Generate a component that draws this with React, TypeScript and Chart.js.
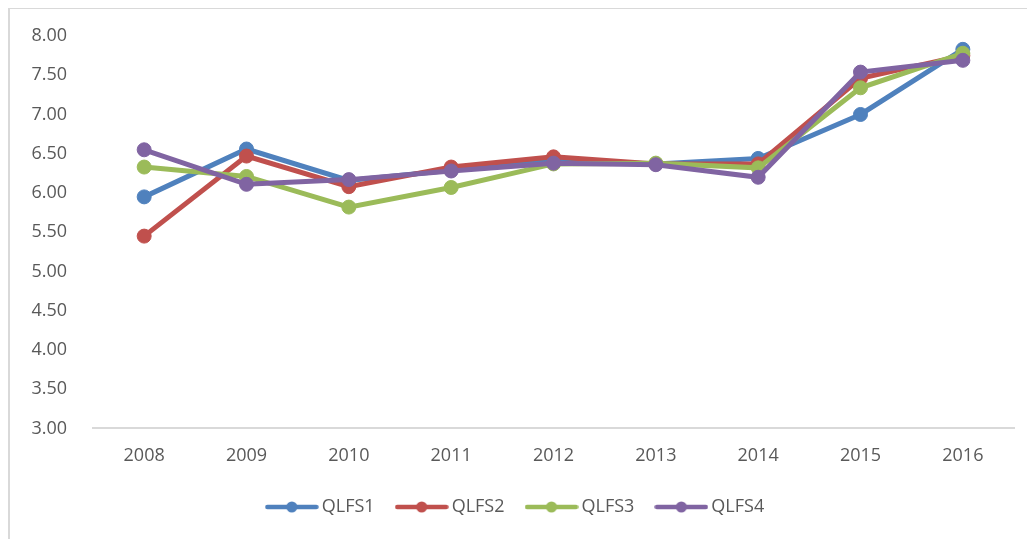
import React, { useEffect, useRef } from "react";
import { Chart, registerables } from "chart.js";

Chart.register(...registerables);

const years = ["2008", "2009", "2010", "2011", "2012", "2013", "2014", "2015", "2016"];
const seriesNames = ["QLFS1", "QLFS2", "QLFS3", "QLFS4"];
const qlfs1 = [5.95, 6.56, 6.16, 6.29, 6.42, 6.37, 6.44, 7.0, 7.83];
const qlfs2 = [5.45, 6.47, 6.08, 6.33, 6.46, 6.37, 6.37, 7.46, 7.75];
const qlfs3 = [6.33, 6.21, 5.82, 6.07, 6.37, 6.38, 6.32, 7.34, 7.78];
const qlfs4 = [6.55, 6.11, 6.17, 6.28, 6.38, 6.36, 6.2, 7.54, 7.69];
const seriesColors = ["#4F81BD", "#C0504D", "#9BBB59", "#8064A2"];
const yMin = 3;
const yMax = 8;
const yStep = 0.5;

const FONT = "'Open Sans', 'Noto Sans', sans-serif";
const TEXT = "#595959";

function legendImage(color: string): HTMLCanvasElement {
  const c = document.createElement("canvas");
  c.width = 54;
  c.height = 14;
  const g = c.getContext("2d")!;
  g.strokeStyle = color;
  g.lineWidth = 4.5;
  g.lineCap = "round";
  g.beginPath();
  g.moveTo(2.5, 7);
  g.lineTo(51.5, 7);
  g.stroke();
  g.fillStyle = color;
  g.beginPath();
  g.arc(27, 7, 5.5, 0, Math.PI * 2);
  g.fill();
  return c;
}

export default function App() {
  const ref = useRef<HTMLCanvasElement | null>(null);

  useEffect(() => {
    if (!ref.current) return;
    const values = [qlfs1, qlfs2, qlfs3, qlfs4];
    const images = seriesColors.map(legendImage);
    const chart = new Chart(ref.current, {
      type: "line",
      data: {
        labels: years,
        datasets: seriesNames.map((name, i) => ({
          label: name,
          data: values[i],
          borderColor: seriesColors[i],
          backgroundColor: seriesColors[i],
          borderWidth: 5,
          pointRadius: 7,
          pointBorderWidth: 1,
          pointBorderColor: seriesColors[i],
          pointBackgroundColor: seriesColors[i],
          tension: 0,
          order: seriesNames.length - i,
        })),
      },
      options: {
        animation: false,
        responsive: false,
        layout: { padding: { left: 11, top: 27, right: 21, bottom: 12 } },
        scales: {
          x: {
            offset: true,
            grid: { display: false, drawTicks: false },
            border: { display: true, color: "#D9D9D9", width: 2 },
            ticks: { color: TEXT, font: { family: FONT, size: 18 }, padding: 17 },
            afterFit: (s: any) => {
              s.height = s.height - 12;
            },
          },
          y: {
            min: yMin,
            max: yMax,
            grid: { display: false, drawTicks: false },
            border: { display: false },
            ticks: {
              stepSize: yStep,
              color: TEXT,
              font: { family: FONT, size: 18 },
              padding: 26,
              callback: (v: any) => Number(v).toFixed(2),
            },
            afterFit: (s: any) => {
              s.width = 72;
              s.paddingTop = 9;
              s.paddingBottom = 9;
            },
          },
        },
        plugins: {
          tooltip: { enabled: false },
          legend: {
            position: "bottom",
            labels: {
              usePointStyle: true,
              pointStyleWidth: 42,
              padding: 26,
              color: TEXT,
              font: { family: FONT, size: 18 },
              generateLabels: (ch: any) =>
                ch.data.datasets.map((ds: any, i: number) => ({
                  text: ds.label,
                  fillStyle: seriesColors[i],
                  strokeStyle: seriesColors[i],
                  lineWidth: 0,
                  pointStyle: images[i],
                  hidden: false,
                  datasetIndex: i,
                  fontColor: TEXT,
                })),
            },
          },
        },
      },
    });
    return () => chart.destroy();
  }, []);

  return (
    <div
      style={{
        position: "relative",
        marginTop: -1,
        width: 1040,
        height: 540,
        borderTop: "2px solid #D9D9D9",
        borderLeft: "2px solid #D9D9D9",
        boxSizing: "content-box",
      }}
    >
      <canvas ref={ref} width={1025} height={529} style={{ display: "block" }} />
    </div>
  );
}
